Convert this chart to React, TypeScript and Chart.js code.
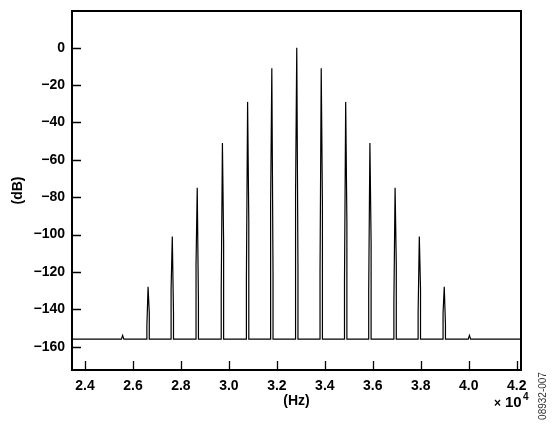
import React, { useEffect, useRef } from "react";
import { Chart, registerables } from "chart.js";

Chart.register(...registerables);

// ---- data (frequency in units of 10^4 Hz, level in dB) ----
const xTickValues = [2.4, 2.6, 2.8, 3.0, 3.2, 3.4, 3.6, 3.8, 4.0, 4.2];
const yTickValues = [0, -20, -40, -60, -80, -100, -120, -140, -160];
const noiseFloor = -156;
const peakFreqs = [2.557, 2.663, 2.764, 2.868, 2.973, 3.078, 3.179, 3.283, 3.385, 3.487, 3.588, 3.693, 3.794, 3.898, 4.003];
const peakLevels = [-154, -128, -101, -75, -51, -29, -11, 0, -11, -29, -51, -75, -101, -128, -154];
const leftShoulder = [-156, -149, -129, -116, -130, -124, -84, -78, -120, -125, -130, -136, -142, -142, -156];
const rightShoulder = [-156, -142, -142, -136, -104, -93, -120, -117, -84, -93, -104, -116, -129, -148, -156];

const X_MIN = 2.3458;
const X_MAX = 4.218;
const Y_MIN = -172.5;
const Y_MAX = 19.64;
const HALF_WIDTH = 0.005;

const FONT = '"Liberation Sans", Arial, Helvetica, sans-serif';

function buildPoints() {
  const pts: { x: number; y: number }[] = [{ x: X_MIN, y: noiseFloor }];
  peakFreqs.forEach((f, i) => {
    pts.push({ x: f - HALF_WIDTH, y: noiseFloor });
    pts.push({ x: f - HALF_WIDTH, y: leftShoulder[i] });
    pts.push({ x: f, y: peakLevels[i] });
    pts.push({ x: f + HALF_WIDTH, y: rightShoulder[i] });
    pts.push({ x: f + HALF_WIDTH, y: noiseFloor });
  });
  pts.push({ x: X_MAX, y: noiseFloor });
  return pts;
}

const framePlugin = {
  id: "frameAndTicks",
  afterDraw(chart: any) {
    const { ctx, chartArea: a, scales } = chart;
    ctx.save();
    ctx.strokeStyle = "#000";
    ctx.lineWidth = 1.3;
    ctx.beginPath();
    yTickValues.forEach((v) => {
      const y = Math.round(scales.y.getPixelForValue(v)) + 0.5;
      ctx.moveTo(a.left, y);
      ctx.lineTo(a.left + 9, y);
    });
    xTickValues.forEach((v) => {
      const x = Math.round(scales.x.getPixelForValue(v)) + 0.5;
      ctx.moveTo(x, a.bottom);
      ctx.lineTo(x, a.bottom - 9);
    });
    ctx.stroke();
    ctx.lineWidth = 2;
    ctx.strokeRect(a.left, a.top, a.right - a.left, a.bottom - a.top);

    // exponent label
    ctx.fillStyle = "#000";
    ctx.textBaseline = "middle";
    ctx.textAlign = "left";
    ctx.font = `bold 12px ${FONT}`;
    ctx.fillText("\u00d7", 494, 404);
    ctx.font = `bold 15px ${FONT}`;
    ctx.fillText("10", 505, 403);
    ctx.font = `bold 10px ${FONT}`;
    ctx.fillText("4", 523, 397);

    // figure id
    ctx.translate(543, 396);
    ctx.rotate(-Math.PI / 2);
    ctx.textAlign = "center";
    ctx.font = `10px ${FONT}`;
    ctx.fillStyle = "#333";
    ctx.fillText("08932-007", 0, 0);
    ctx.restore();
  },
};

export default function App() {
  const ref = useRef<HTMLCanvasElement | null>(null);
  useEffect(() => {
    if (!ref.current) return;
    const chart = new Chart(ref.current, {
      type: "line",
      data: {
        datasets: [
          {
            data: buildPoints(),
            borderColor: "#000",
            borderWidth: 1.2,
            pointRadius: 0,
            fill: false,
            tension: 0,
          },
        ],
      },
      options: {
        animation: false,
        responsive: false,
        events: [],
        layout: { padding: { left: 0, right: 35, top: 11, bottom: 0 } },
        plugins: { legend: { display: false }, tooltip: { enabled: false } },
        scales: {
          x: {
            type: "linear",
            min: X_MIN,
            max: X_MAX,
            border: { display: false },
            grid: { display: false, drawTicks: false },
            afterFit: (s: any) => {
              s.height = 55;
              s.paddingLeft = 0;
              s.paddingRight = 0;
              s.paddingTop = 0;
              s.paddingBottom = 0;
            },
            afterBuildTicks: (s: any) => {
              s.ticks = xTickValues.map((v) => ({ value: v }));
            },
            ticks: {
              padding: 8,
              color: "#000",
              maxRotation: 0,
              autoSkip: false,
              font: { family: FONT, size: 14, weight: "bold" },
              callback: (v: any) => Number(v).toFixed(1),
            },
            title: {
              display: true,
              text: "(Hz)",
              color: "#000",
              padding: { top: 0, bottom: 15 },
              font: { family: FONT, size: 14, weight: "bold" },
            },
          },
          y: {
            type: "linear",
            min: Y_MIN,
            max: Y_MAX,
            border: { display: false },
            grid: { display: false, drawTicks: false },
            afterFit: (s: any) => {
              s.width = 72;
              s.paddingLeft = 0;
              s.paddingRight = 0;
              s.paddingTop = 0;
              s.paddingBottom = 0;
            },
            afterBuildTicks: (s: any) => {
              s.ticks = yTickValues.map((v) => ({ value: v }));
            },
            ticks: {
              padding: 7,
              color: "#000",
              autoSkip: false,
              font: { family: FONT, size: 14, weight: "bold" },
              callback: (v: any) => (Number(v) < 0 ? "\u2212" + Math.abs(Number(v)) : String(v)),
            },
            title: {
              display: true,
              text: "(dB)",
              color: "#000",
              padding: { top: 10, bottom: 0 },
              font: { family: FONT, size: 14, weight: "bold" },
            },
          },
        },
      },
      plugins: [framePlugin],
    });
    return () => chart.destroy();
  }, []);
  return (
    <canvas
      ref={ref}
      width={556}
      height={425}
      style={{ position: "fixed", left: 0, top: 0, width: 556, height: 425 }}
    />
  );
}
